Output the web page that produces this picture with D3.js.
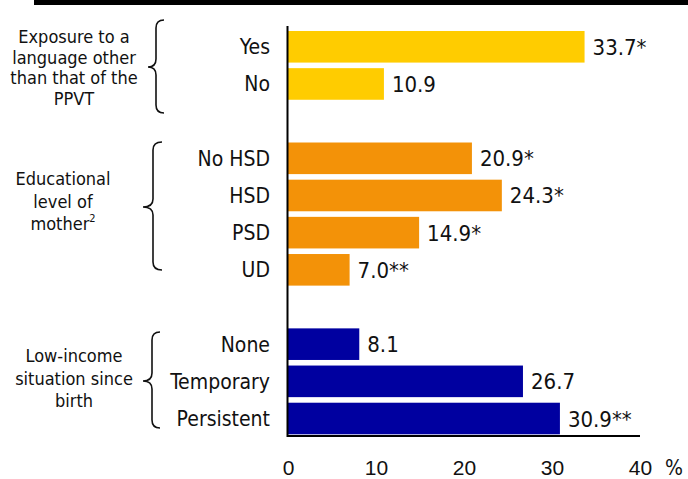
<!DOCTYPE html>
<html>
<head>
<meta charset="utf-8">
<script src="https://cdn.jsdelivr.net/npm/d3@7"></script>
<style>
  html, body { margin: 0; padding: 0; background: #fff; }
  svg { display: block; font-family: "DejaVu Sans Condensed", "DejaVu Sans", sans-serif; font-stretch: condensed; }
</style>
</head>
<body>
<svg id="chart" width="688" height="479"></svg>
<script>
// ---- data ----
const categories = ["Yes", "No", "No HSD", "HSD", "PSD", "UD", "None", "Temporary", "Persistent"];
const groupOf = ["lang", "lang", "edu", "edu", "edu", "edu", "inc", "inc", "inc"];
const values = [33.7, 10.9, 20.9, 24.3, 14.9, 7.0, 8.1, 26.7, 30.9];
const valueLabels = ["33.7*", "10.9", "20.9*", "24.3*", "14.9*", "7.0**", "8.1", "26.7", "30.9**"];
const groups = ["lang", "edu", "inc"];
const groupColors = ["#FFCC00", "#F39208", "#0000A0"];
const groupLines = [
  ["Exposure to a", "language other", "than that of the", "PPVT"],
  ["Educational", "level of", "mother"],
  ["Low-income", "situation since", "birth"]
];
const xTicks = [0, 10, 20, 30, 40];
const xUnit = "%";

// ---- layout ----
const svg = d3.select("#chart");
const x0 = 288, x1 = 640;
const x = d3.scaleLinear().domain([0, 40]).range([x0, x1]);

// slots including blank gaps between groups
const slots = ["Yes", "No", "_g1", "No HSD", "HSD", "PSD", "UD", "_g2", "None", "Temporary", "Persistent"];
const y = d3.scaleBand().domain(slots).range([28.2, 437.1]).paddingInner(0.15).paddingOuter(0.075);
const color = d3.scaleOrdinal().domain(groups).range(groupColors);

// top black band
svg.append("rect").attr("x", 34).attr("y", 0).attr("width", 654).attr("height", 5).attr("fill", "#000");

// bars
svg.append("g").selectAll("rect").data(categories).join("rect")
  .attr("x", x(0))
  .attr("y", d => y(d))
  .attr("width", (d, i) => x(values[i]) - x(0))
  .attr("height", y.bandwidth())
  .attr("fill", (d, i) => color(groupOf[i]));

// value labels
svg.append("g").selectAll("text").data(categories).join("text")
  .attr("x", (d, i) => x(values[i]) + 8)
  .attr("y", d => y(d) + y.bandwidth() / 2 + 8)
  .attr("font-size", 22)
  .attr("fill", "#111")
  .text((d, i) => valueLabels[i]);

// category labels
svg.append("g").selectAll("text").data(categories).join("text")
  .attr("x", 270)
  .attr("y", d => y(d) + y.bandwidth() / 2 + 7.5)
  .attr("text-anchor", "end")
  .attr("font-size", 21)
  .attr("fill", "#111")
  .text(d => d);

// axes lines
svg.append("line").attr("x1", 287.5).attr("x2", 287.5).attr("y1", 26).attr("y2", 437)
  .attr("stroke", "#000").attr("stroke-width", 2);
const xAxis = d3.axisBottom(x).tickValues(xTicks).tickSize(0).tickPadding(0).tickFormat(d3.format("d"));
const gx = svg.append("g").attr("transform", "translate(0,436)").call(xAxis);
gx.select(".domain").attr("stroke", "#000").attr("stroke-width", 2).attr("d", `M${x0 - 1},0H${x1}`);
gx.selectAll(".tick text").attr("font-size", 21).attr("fill", "#111")
  .attr("font-family", null).attr("dy", null).attr("y", 39);
svg.append("text").attr("x", 665).attr("y", 475).attr("font-size", 21).attr("fill", "#111").text(xUnit);

// group labels and braces
const groupText = [
  { cx: 74, base: 43, lh: 20.5 },
  { cx: 63, base: 185, lh: 22.5 },
  { cx: 74, base: 362, lh: 22.5 }
];
const braceGeo = [
  { y0: 20, y1: 113, ym: 67, xv: 156, xr: 164, xt: 148 },
  { y0: 142, y1: 270, ym: 207, xv: 153, xr: 162, xt: 143 },
  { y0: 332, y1: 428, ym: 381, xv: 152, xr: 160, xt: 143 }
];
groups.forEach((g, gi) => {
  const t = svg.append("text").attr("text-anchor", "middle").attr("font-size", 18).attr("fill", "#111");
  groupLines[gi].forEach((line, li) => {
    const ts = t.append("tspan").attr("x", groupText[gi].cx).attr("y", groupText[gi].base + li * groupText[gi].lh).text(line);
    if (gi === 1 && li === 2) {
      ts.append("tspan").attr("font-size", 11).attr("dy", -8).text("2");
    }
  });
  const b = braceGeo[gi], r = 8;
  const p = d3.path();
  p.moveTo(b.xr, b.y0);
  p.quadraticCurveTo(b.xv, b.y0, b.xv, b.y0 + r);
  p.lineTo(b.xv, b.ym - r);
  p.quadraticCurveTo(b.xv, b.ym, b.xt, b.ym);
  p.quadraticCurveTo(b.xv, b.ym, b.xv, b.ym + r);
  p.lineTo(b.xv, b.y1 - r);
  p.quadraticCurveTo(b.xv, b.y1, b.xr, b.y1);
  svg.append("path").attr("d", p.toString()).attr("fill", "none").attr("stroke", "#111").attr("stroke-width", 1.6);
});
</script>
</body>
</html>
